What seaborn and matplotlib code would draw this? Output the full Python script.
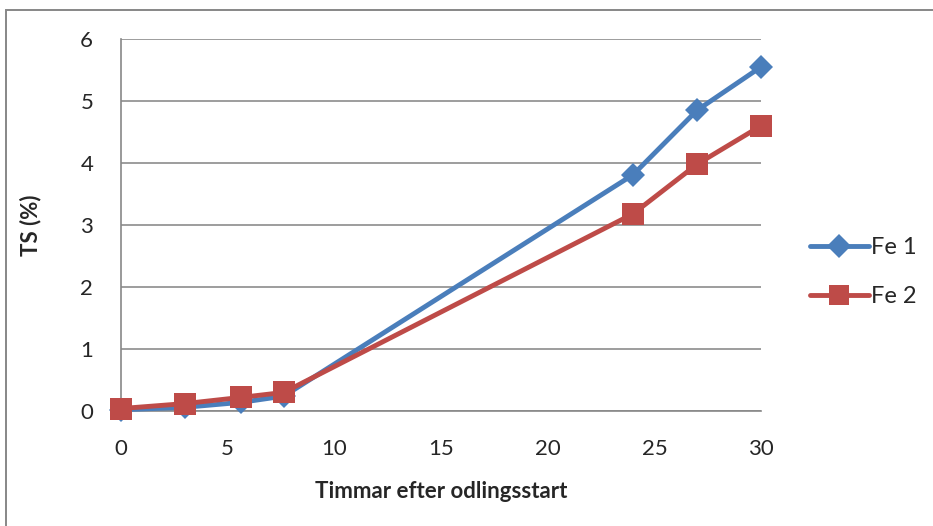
import matplotlib
matplotlib.use("Agg")
import matplotlib.pyplot as plt
import seaborn as sns
import pandas as pd
from matplotlib.patches import Rectangle
from matplotlib.lines import Line2D

# Hours after start of cultivation and dry-solids content (TS %)
hours = [0, 3, 5.63, 7.63, 24, 27, 30]
fe1 = [0.02, 0.06, 0.14, 0.24, 3.81, 4.85, 5.55]
fe2 = [0.04, 0.12, 0.22, 0.30, 3.18, 3.98, 4.60]
series_names = ["Fe 1", "Fe 2"]
y_ticks = [0, 1, 2, 3, 4, 5, 6]
x_ticks = [0, 5, 10, 15, 20, 25, 30]

df = pd.concat([
    pd.DataFrame({"Timmar": hours, "TS": fe1, "Serie": series_names[0]}),
    pd.DataFrame({"Timmar": hours, "TS": fe2, "Serie": series_names[1]}),
])

sns.set_theme(style="white")
plt.rcParams["font.family"] = ["Lato", "DejaVu Sans"]

fig = plt.figure(figsize=(9.33, 5.26), dpi=100)
ax = fig.add_axes([0.1297, 0.2186, 0.6860, 0.7073])

blue = "#4a7ebb"
red = "#be4b48"
sns.lineplot(data=df, x="Timmar", y="TS", hue="Serie", style="Serie",
             palette=[blue, red], markers=["D", "s"], dashes=False,
             linewidth=3.5, markersize=13, markeredgewidth=0,
             ax=ax, legend=False, zorder=3)
# diamond slightly smaller than square; markers drawn past the axes edge
for line, ms in zip(ax.lines, [12, 16]):
    line.set_markersize(ms)
    line.set_clip_on(False)

ax.set_xlim(0, 30)
ax.set_ylim(0, 6)
ax.set_xticks(x_ticks)
ax.set_yticks(y_ticks)
ax.set_xticklabels([str(t) for t in x_ticks], fontsize=16)
ax.set_yticklabels([str(t) for t in y_ticks], fontsize=16)
ax.tick_params(axis="y", which="major", direction="out", length=8, width=1.2,
               color="#878787", pad=12)
ax.tick_params(axis="x", which="major", length=0, pad=20)
ax.yaxis.grid(True, color="#8c8c8c", linewidth=1.2)
ax.set_axisbelow(True)
for side in ["top", "right"]:
    ax.spines[side].set_visible(False)
for side in ["left", "bottom"]:
    ax.spines[side].set_color("#878787")
    ax.spines[side].set_linewidth(1.2)

ax.set_xlabel("Timmar efter odlingsstart", fontsize=16, fontweight="bold", labelpad=16)
ax.set_ylabel("TS (%)", fontsize=16, fontweight="bold", labelpad=28)

# legend on the right
handles = [
    Line2D([], [], color=blue, lw=3.5, marker="D", markersize=12, markeredgewidth=0),
    Line2D([], [], color=red, lw=3.5, marker="s", markersize=14, markeredgewidth=0),
]
fig.legend(handles, series_names, loc="center left", bbox_to_anchor=(0.845, 0.483),
           frameon=False, fontsize=17, handlelength=2.5, handletextpad=0.1,
           labelspacing=1.2)

# chart area border
fig.patches.append(Rectangle((0.006, -0.05), 1.2, 1.031,
                             transform=fig.transFigure, fill=False,
                             edgecolor="#878787", linewidth=1.4))

fig.savefig("out.png", dpi=100)
